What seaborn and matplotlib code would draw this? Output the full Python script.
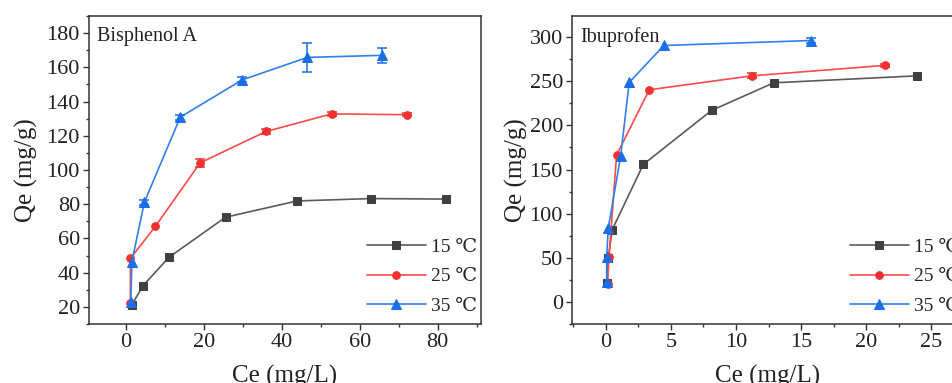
import numpy as np
import pandas as pd
import matplotlib
matplotlib.use("Agg")
import matplotlib.pyplot as plt
from matplotlib.ticker import AutoMinorLocator, MultipleLocator
import seaborn as sns

# Adsorption isotherms: equilibrium concentration Ce (mg/L) vs uptake Qe (mg/g)
temps = ["15 ℃", "25 ℃", "35 ℃"]

# Bisphenol A
bpa_ce_15 = [1.5, 4.5, 11.1, 25.6, 43.9, 62.8, 82.0]
bpa_qe_15 = [21.0, 32.5, 49.0, 72.4, 81.9, 83.3, 83.0]
bpa_ce_25 = [1.2, 1.2, 7.6, 19.1, 36.0, 52.8, 72.1]
bpa_qe_25 = [22.0, 48.3, 67.0, 104.2, 122.5, 132.8, 132.3]
bpa_err_25 = [0.0, 0.0, 0.0, 2.5, 1.5, 1.0, 1.0]
bpa_ce_35 = [1.3, 1.6, 4.8, 14.0, 29.9, 46.6, 65.6]
bpa_qe_35 = [22.7, 46.5, 81.2, 130.9, 152.7, 165.8, 167.0]
bpa_err_35 = [0.0, 0.0, 1.5, 1.5, 1.5, 8.5, 4.3]

# Ibuprofen
ibu_ce_15 = [0.1, 0.2, 0.51, 2.89, 8.13, 12.9, 23.9]
ibu_qe_15 = [21.0, 50.0, 81.9, 155.8, 217.0, 248.3, 256.2]
ibu_ce_25 = [0.15, 0.26, 0.84, 3.35, 11.2, 21.4]
ibu_qe_25 = [20.8, 50.6, 166.4, 240.4, 256.2, 268.0]
ibu_err_25 = [0.0, 0.0, 0.0, 0.0, 3.0, 2.0]
ibu_ce_35 = [0.08, 0.08, 0.2, 1.15, 1.81, 4.47, 15.75]
ibu_qe_35 = [22.3, 50.6, 83.4, 165.0, 248.7, 290.6, 296.2]
ibu_err_35 = [0.0, 0.0, 0.0, 0.0, 0.0, 0.0, 3.0]

line_colors = ["#5a5a5a", "#ff4a4a", "#3080ee"]
mark_colors = ["#404040", "#f23030", "#1a6fe6"]
markers = ["s", "o", "^"]

sns.set_style("ticks")
plt.rcParams["font.family"] = ["Liberation Serif", "DejaVu Serif"]

fig = plt.figure(figsize=(9.53, 3.83), dpi=100)
W, H = 953, 383
ax1 = fig.add_axes([89 / W, 1 - 324 / H, 392 / W, 308 / H])
ax2 = fig.add_axes([572 / W, 1 - 324 / H, 392 / W, 308 / H])


def draw(ax, ces, qes, errs):
    for i, (ce, qe) in enumerate(zip(ces, qes)):
        df = pd.DataFrame({"Ce": ce, "Qe": qe})
        sns.lineplot(data=df, x="Ce", y="Qe", ax=ax, sort=False, estimator=None,
                     color=line_colors[i], lw=1.2, marker=markers[i],
                     markersize=6.5 if markers[i] == "^" else 5.5,
                     markerfacecolor=mark_colors[i], markeredgecolor=mark_colors[i],
                     label=temps[i], zorder=3 + i)
        if errs[i] is not None:
            e = np.array(errs[i])
            m = e > 0
            ax.errorbar(np.array(ce)[m], np.array(qe)[m], yerr=e[m], fmt="none",
                        ecolor=mark_colors[i], elinewidth=1.1, capsize=3.5,
                        capthick=1.1, zorder=3 + i)


draw(ax1, [bpa_ce_15, bpa_ce_25, bpa_ce_35], [bpa_qe_15, bpa_qe_25, bpa_qe_35],
     [None, bpa_err_25, bpa_err_35])
draw(ax2, [ibu_ce_15, ibu_ce_25, ibu_ce_35], [ibu_qe_15, ibu_qe_25, ibu_qe_35],
     [None, ibu_err_25, ibu_err_35])

ax1.set_xlim(-9.4, 91.1)
ax1.set_ylim(10, 190)
ax1.xaxis.set_major_locator(MultipleLocator(20))
ax1.set_yticks(np.arange(20, 181, 20))

ax2.set_xlim(-2.58, 27.5)
ax2.set_ylim(-25, 324)
ax2.xaxis.set_major_locator(MultipleLocator(5))
ax2.set_yticks(np.arange(0, 301, 50))

for ax, title, ypad in [(ax1, "Bisphenol A", 6), (ax2, "Ibuprofen", 1.5)]:
    ax.xaxis.set_minor_locator(AutoMinorLocator(2))
    ax.yaxis.set_minor_locator(AutoMinorLocator(2))
    ax.tick_params(which="major", direction="out", length=4, width=1,
                   labelsize=16, color="#333333", labelcolor="#222222", pad=2.5)
    ax.tick_params(which="minor", direction="out", length=2.5, width=1, color="#333333")
    for s in ax.spines.values():
        s.set_linewidth(1.1)
        s.set_color("#333333")
    ax.set_xlabel("Ce (mg/L)", fontsize=18, color="#222222", labelpad=9)
    ax.set_ylabel("Qe (mg/g)", fontsize=18, color="#222222", labelpad=ypad)
    ax.text(0.02, 0.965, title, transform=ax.transAxes, fontsize=14.5,
            color="#222222", va="top", ha="left")
    ax.legend(loc="lower left", bbox_to_anchor=(0.695, 0.01), frameon=False,
              fontsize=14, handlelength=3.0, handletextpad=0.3,
              labelspacing=0.62, borderaxespad=0.1, borderpad=0.2)

fig.savefig("out.png", dpi=100)
